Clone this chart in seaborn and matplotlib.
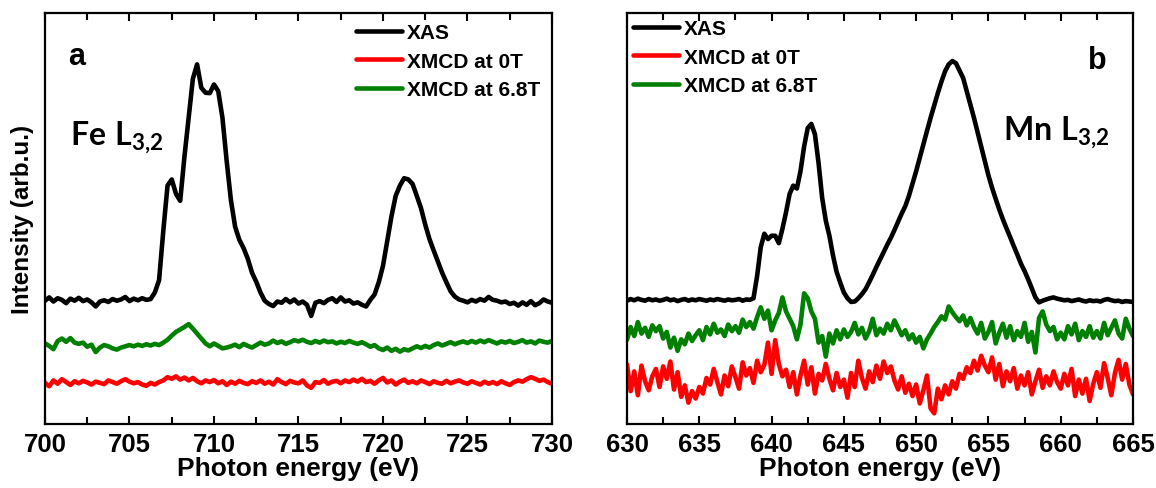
import numpy as np
import pandas as pd
import matplotlib
matplotlib.use("Agg")
import matplotlib.pyplot as plt
import seaborn as sns

# ---------------- data (arbitrary units) ----------------
energy_fe = np.arange(700, 730.001, 0.25)
xas_fe = [
    30.0, 30.8, 29.8, 30.6, 30.2, 29.4, 30.5, 30.0, 30.7, 29.9,
    30.3, 29.6, 28.6, 29.8, 30.1, 29.7, 30.4, 30.0, 30.3, 30.9,
    29.9, 30.5, 30.1, 30.6, 30.2, 30.4, 32.0, 35.0, 47.0, 58.0,
    59.5, 56.0, 54.3, 65.0, 74.5, 84.0, 87.5, 81.8, 80.6, 80.5,
    82.6, 81.0, 74.5, 64.0, 54.5, 48.0, 44.8, 42.8, 40.2, 36.8,
    34.6, 32.0, 30.0, 29.2, 28.7, 29.8, 29.5, 30.4, 29.6, 30.3,
    29.3, 29.8, 29.0, 26.3, 29.5, 29.9, 29.4, 30.2, 30.6, 29.7,
    30.8, 29.8, 30.1, 29.3, 29.6, 29.0, 28.6, 30.2, 31.5, 34.5,
    38.5, 44.5, 50.5, 55.5, 58.0, 59.8, 59.5, 58.4, 55.5, 52.5,
    48.5, 45.0, 42.2, 39.5, 36.8, 34.5, 32.3, 31.0, 30.3, 30.0,
    29.6, 30.2, 29.8, 30.4, 30.0, 30.9, 30.2, 30.0, 29.6, 29.8,
    29.2, 29.5, 28.8, 29.6, 29.0, 29.9, 28.9, 29.4, 30.3, 29.8,
    29.5,
]
xmcd0_fe = [
    10.0, 9.2, 10.6, 9.8, 10.9, 10.2, 9.5, 10.4, 9.9, 10.5,
    10.1, 9.6, 10.3, 10.0, 9.7, 10.6, 10.2, 9.8, 10.4, 10.9,
    10.3, 9.9, 10.2, 9.6, 9.3, 10.0, 9.6, 10.2, 10.6, 11.4,
    11.0, 11.6, 10.8, 11.3, 10.6, 11.2, 10.4, 9.9, 10.6, 10.2,
    10.7, 9.9, 10.4, 9.5, 10.3, 9.8, 10.5, 10.0, 9.7, 10.4,
    10.0, 10.6, 9.8, 10.3, 9.6, 10.9, 10.2, 9.7, 10.5, 10.1,
    9.9, 10.6, 9.4, 8.8, 10.2, 10.0, 10.7, 9.8, 10.3, 10.5,
    9.9, 10.6, 10.2, 10.8, 10.3, 11.0, 10.2, 10.5, 9.8, 10.6,
    11.2, 10.1, 10.6, 9.6, 10.3, 10.8, 10.0, 10.4, 9.9, 10.6,
    10.2, 9.7, 10.4, 10.0, 9.8, 10.5, 9.9, 10.3, 10.6, 10.1,
    9.8, 10.4, 10.0, 9.6, 10.3, 9.8, 10.2, 9.7, 10.4, 9.9,
    9.5, 10.2, 10.6, 10.3, 10.9, 11.4, 11.0, 10.5, 10.8, 10.2,
    9.8,
]
xmcd68_fe = [
    19.6, 19.0, 18.2, 20.2, 20.8, 20.0, 20.9, 19.8, 19.5, 19.8,
    18.8, 19.3, 17.5, 18.6, 19.2, 18.9, 18.4, 18.1, 18.6, 18.9,
    19.2, 18.9, 19.3, 19.0, 19.4, 19.1, 19.5, 19.2, 19.8, 20.5,
    21.5, 22.4, 23.0, 23.6, 24.3, 23.2, 22.0, 20.8, 19.6, 18.9,
    19.6, 19.0, 18.4, 18.6, 18.9, 19.3, 18.7, 19.5, 19.0, 18.6,
    19.2, 19.8, 19.3, 19.6, 20.3, 19.7, 20.1, 19.5, 19.9, 20.4,
    20.1, 20.5, 20.0, 19.7, 20.2, 19.8, 20.3, 19.9, 20.1, 19.6,
    20.0, 19.7, 20.2, 19.8, 19.5, 19.9, 19.4, 18.8, 19.2, 18.4,
    18.0, 18.6, 17.8, 18.3, 17.6, 18.2, 17.9, 18.4, 18.9, 18.5,
    19.0, 18.6, 19.2, 19.6, 19.1, 19.5, 19.9, 19.4, 19.8, 20.1,
    19.7, 20.2, 19.8, 20.3, 19.9, 20.4, 20.0, 19.6, 20.1, 19.8,
    20.2, 19.7, 20.0, 20.4, 19.8, 20.1, 19.6, 20.3, 20.0, 19.8,
    20.2,
]

energy_mn = np.arange(630, 665.001, 0.25)
xas_mn = [
    30.0, 30.4, 30.1, 30.5, 30.2, 30.0, 30.4, 30.1, 30.3, 30.0,
    30.2, 30.5, 30.1, 30.3, 29.9, 30.2, 30.4, 30.0, 30.3, 30.1,
    30.4, 30.2, 30.0, 30.3, 30.1, 30.4, 30.2, 30.0, 30.3, 30.1,
    30.2, 30.4, 30.0, 30.3, 30.2, 30.6, 36.0, 43.0, 46.3, 45.0,
    45.8, 45.8, 44.0, 47.5, 51.5, 56.0, 58.0, 57.3, 61.5, 67.5,
    72.0, 73.0, 70.5, 63.5, 55.0, 49.5, 45.8, 41.0, 37.0, 34.4,
    32.0, 30.6, 29.7, 29.8, 30.6, 31.6, 32.8, 34.5, 36.3, 38.2,
    40.0, 41.8, 43.6, 45.3, 47.2, 49.2, 51.2, 53.0, 55.5, 58.5,
    61.5, 64.8, 68.0, 71.3, 74.5, 77.5, 80.5, 83.3, 85.8, 87.5,
    88.3, 87.8, 86.0, 84.2, 81.0, 77.8, 74.5, 71.0, 67.5, 64.0,
    60.5, 57.5, 54.8, 52.2, 49.8, 47.6, 45.5, 43.3, 41.2, 39.0,
    37.2, 35.2, 33.0, 30.8, 29.6, 30.0, 30.3, 30.6, 30.8, 30.5,
    30.3, 30.1, 30.2, 29.9, 30.1, 30.3, 30.0, 29.8, 30.1, 29.9,
    30.0, 29.8, 30.2, 30.4, 30.1, 29.9, 30.0, 29.7, 29.9, 29.8,
    29.7,
]
xmcd0_mn = [
    14.5, 8.0, 12.8, 7.0, 14.2, 10.4, 8.2, 11.6, 13.4, 9.0,
    14.0, 11.0, 15.2, 8.4, 12.6, 6.6, 9.4, 5.2, 8.0, 6.2,
    9.0, 7.4, 11.2, 9.6, 13.4, 10.2, 7.2, 11.8, 9.2, 14.0,
    11.4, 8.6, 15.0, 11.8, 13.6, 10.0, 15.4, 12.6, 14.4, 19.8,
    12.2, 20.4, 14.6, 11.6, 13.2, 9.0, 12.6, 7.2, 11.8, 15.4,
    9.6, 13.8, 7.4, 12.2, 10.6, 14.6, 11.0, 8.2, 12.4, 9.0,
    10.8, 6.4, 12.4, 9.0, 15.4, 11.2, 8.6, 12.8, 10.2, 14.2,
    11.0, 15.2, 12.4, 14.0, 10.6, 8.4, 11.6, 7.6, 9.8, 6.8,
    9.6, 5.0, 8.2, 11.8, 3.8, 2.6, 8.6, 6.0, 9.4, 7.2,
    10.4, 8.6, 12.2, 11.0, 13.8, 12.4, 15.4, 13.0, 16.6, 14.2,
    12.6, 16.2, 10.8, 14.6, 9.2, 12.8, 10.4, 13.6, 8.6, 11.8,
    9.4, 12.6, 7.2, 10.4, 13.2, 8.8, 11.6, 9.4, 12.8, 10.2,
    8.6, 12.2, 9.4, 13.4, 6.8, 10.8, 7.4, 11.0, 5.6, 9.8,
    12.6, 8.8, 14.8, 11.2, 7.0, 12.4, 15.6, 10.8, 14.6, 9.6,
    7.2,
]
xmcd68_mn = [
    20.5, 23.6, 21.4, 24.8, 22.0, 23.4, 21.2, 24.0, 22.6, 23.8,
    20.8, 22.4, 18.6, 21.0, 17.8, 20.6, 19.4, 22.0, 20.2, 21.6,
    22.8, 20.4, 23.6, 21.8, 24.4, 22.2, 23.0, 21.4, 24.2, 22.6,
    23.8, 22.2, 25.4, 23.6, 24.8, 23.2, 26.0, 28.4, 25.6, 27.6,
    22.8, 25.2, 27.0, 30.8, 27.4, 25.6, 23.8, 20.6, 24.2, 31.8,
    30.6, 27.4, 25.6, 19.8, 21.4, 16.4, 22.0, 19.6, 22.8, 20.6,
    23.0, 21.2, 22.4, 24.6, 21.8, 23.4, 20.8, 22.6, 25.6, 21.6,
    23.2, 22.0, 24.4, 22.8, 25.2, 23.4, 21.6, 22.8, 20.6, 21.8,
    19.8, 21.2, 18.4, 20.6, 22.0, 23.6, 24.8, 26.2, 25.4, 28.6,
    27.2, 26.0, 25.0, 26.4, 24.0, 25.8, 23.6, 22.0, 24.6, 20.8,
    22.4, 24.8, 19.6, 22.2, 24.4, 21.0, 23.8, 20.4, 22.6, 21.2,
    24.6, 20.0, 22.4, 17.4, 25.8, 27.4, 24.2, 22.6, 23.6, 20.6,
    22.2, 20.6, 23.8, 21.8, 24.4, 20.4, 22.6, 21.2, 23.8, 21.0,
    22.6, 20.8, 24.6, 21.6, 23.4, 25.2, 22.0, 20.8, 25.6, 23.2,
    21.4,
]

series_labels = ["XAS", "XMCD at 0T", "XMCD at 6.8T"]
series_colors = ["#000000", "#ff0000", "#008000"]

# ---------------- styling ----------------
sns.set_style("ticks")
plt.rcParams["font.family"] = ["Liberation Sans", "DejaVu Sans"]
plt.rcParams["text.color"] = "black"
plt.rcParams["axes.labelcolor"] = "black"
plt.rcParams["axes.edgecolor"] = "black"
plt.rcParams["xtick.color"] = "black"
plt.rcParams["ytick.color"] = "black"
plt.rcParams["mathtext.fontset"] = "custom"
plt.rcParams["mathtext.rm"] = "Lato:bold"
plt.rcParams["mathtext.it"] = "Lato:bold"
plt.rcParams["mathtext.bf"] = "Lato:bold"

fig = plt.figure(figsize=(11.56, 4.89), dpi=100)
ax_a = fig.add_axes([45 / 1156, 1 - 425 / 489, 507 / 1156, 411 / 489])
ax_b = fig.add_axes([627 / 1156, 1 - 425 / 489, 506 / 1156, 411 / 489])


def draw(ax, energy, curves, xlim, major, minor):
    for (vals, lab, col) in zip(curves, series_labels, series_colors):
        df = pd.DataFrame({"E": energy, "I": vals})
        sns.lineplot(data=df, x="E", y="I", ax=ax, color=col, lw=3.3,
                     label=lab, sort=False, estimator=None)
    ax.set_xlim(*xlim)
    ax.set_ylim(0, 100)
    ax.set_yticks([])
    ax.set_xticks(major)
    ax.set_xticks(minor, minor=True)
    ax.tick_params(axis="x", which="both", direction="in", width=1.5,
                   top=True, labelsize=18.5, pad=6, colors="black")
    ax.tick_params(axis="x", which="major", length=6)
    ax.tick_params(axis="x", which="minor", length=5)
    for lab in ax.get_xticklabels():
        lab.set_fontweight("bold")
        lab.set_family(["Liberation Sans", "DejaVu Sans"])
    for sp in ax.spines.values():
        sp.set_linewidth(1.6)
        sp.set_color("black")
        sp.set_visible(True)
    ax.set_xlabel("Photon energy (eV)", family=["Liberation Sans"],
                  fontweight="bold", fontsize=19, labelpad=0, color="black")
    ax.set_ylabel("")


draw(ax_a, energy_fe, [xas_fe, xmcd0_fe, xmcd68_fe], (700, 730),
     np.arange(700, 731, 5), np.arange(702.5, 730, 5))
draw(ax_b, energy_mn, [xas_mn, xmcd0_mn, xmcd68_mn], (630, 665),
     np.arange(630, 666, 5), np.arange(632.5, 665, 5))

ax_a.set_ylabel("Intensity (arb.u.)", family=["Liberation Sans"],
                fontweight="bold", fontsize=17.5, labelpad=8, color="black")

leg_kw = dict(frameon=False, handlelength=2.2, handletextpad=0.25,
              labelspacing=0.45, borderpad=0, borderaxespad=0,
              labelcolor="black",
              prop={"weight": "bold", "size": 15, "family": "Liberation Sans"})
ax_a.legend(loc="upper left", bbox_to_anchor=(0.613, 0.975), **leg_kw)
ax_b.legend(loc="upper left", bbox_to_anchor=(0.012, 0.985), **leg_kw)

ax_a.text(0.045, 0.876, "a", transform=ax_a.transAxes, fontsize=22,
          fontweight="bold", va="baseline", color="black")
ax_b.text(0.911, 0.866, "b", transform=ax_b.transAxes, fontsize=22,
          fontweight="bold", va="baseline", color="black")
ax_a.text(0.049, 0.681, r"$\mathrm{Fe\ L_{3{,}2}}$", transform=ax_a.transAxes,
          fontsize=23, va="baseline", color="black")
ax_b.text(0.743, 0.693, r"$\mathrm{Mn\ L_{3{,}2}}$", transform=ax_b.transAxes,
          fontsize=23, va="baseline", color="black")

fig.savefig("out.png", dpi=100)
